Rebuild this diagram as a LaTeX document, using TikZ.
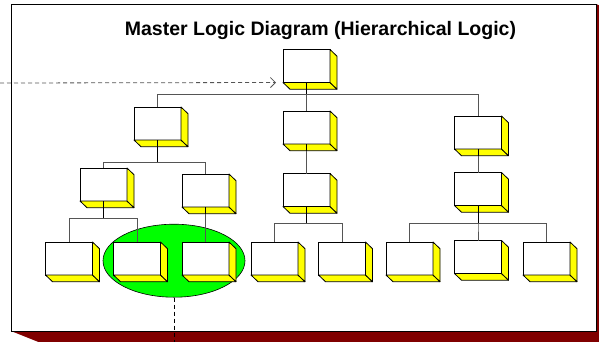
\documentclass[tikz,border=0pt]{standalone}
\usepackage{fontspec}
\setmainfont{Liberation Sans}
\usetikzlibrary{shapes.geometric,arrows.meta}
\definecolor{shadowred}{HTML}{800000}
\definecolor{boxyellow}{HTML}{FFFF00}
\definecolor{groupgreen}{HTML}{00FF00}
\definecolor{linkgray}{HTML}{555555}
\begin{document}
\begin{tikzpicture}[x=1pt,y=-1pt,
  logicbox/.style={draw=black,fill=white,line width=0.8pt,minimum width=47pt,
    minimum height=33pt,inner sep=0pt,outer sep=0pt},
  face/.style={draw=black,fill=boxyellow,line width=0.8pt,line join=round},
  link/.style={draw=linkgray,line width=0.8pt},
  stem/.style={draw=black,line width=0.9pt},
  feed/.style={draw=linkgray,line width=0.8pt,dash pattern=on 4pt off 3pt,
    -{Straight Barb[length=5pt,width=10pt]}},
  drop/.style={draw=black,line width=0.8pt,dash pattern=on 4pt off 3pt}]
  \useasboundingbox (0,0) rectangle (599,341);
  \clip (0,0) rectangle (599,341);
  % 底框
  \fill[shadowred] (596,4) -- (646,24) -- (646,351) -- (61,351) -- (11,331) -- cycle;
  \draw[fill=white,line width=1pt] (11,4) rectangle (596,331);
  \node[anchor=base,font=\bfseries\fontsize{19.5}{23}\selectfont] (title) at (320.5,35)
    {Master Logic Diagram (Hierarchical Logic)};
  % 分组
  \node[ellipse,draw=black,fill=groupgreen,line width=0.6pt,inner sep=0pt,
    minimum width=142pt,minimum height=73pt] (group) at (174,260.7) {};
  % 根节点
  \node[logicbox] (root) at (306.5,66) {};
  \node[logicbox] (la) at (157.5,123.5) {};
  \node[logicbox] (lm) at (306.5,127.5) {};
  \node[logicbox] (lr) at (478,132.5) {};
  \node[logicbox] (laa) at (103.5,184.5) {};
  \node[logicbox] (lab) at (205.5,190.5) {};
  \node[logicbox] (lmm) at (306.5,190) {};
  \node[logicbox] (lrr) at (478,189) {};
  \node[logicbox] (f1) at (69,258.5) {};
  \node[logicbox] (f2) at (137,258.5) {};
  \node[logicbox] (f3) at (205.5,258.5) {};
  \node[logicbox] (f4) at (274.5,258.5) {};
  \node[logicbox] (f5) at (342,258.5) {};
  \node[logicbox] (f6) at (409.5,258.5) {};
  \node[logicbox] (f7) at (478,257) {};
  \node[logicbox] (f8) at (546.5,258.5) {};
  % 立体面
  \foreach \b in {root,la,lm,lr,laa,lab,lmm,lrr,f1,f2,f3,f4,f5,f6,f7,f8}{
    \path[face] (\b.south west) -- (\b.south east) -- ++(7,6.7)
      -- ([shift={(7,6.7)}]\b.south west) -- cycle;
    \path[face] (\b.north east) -- ++(7,6.7)
      -- ([shift={(7,6.7)}]\b.south east) -- (\b.south east) -- cycle;
  }
  % 连线
  \foreach \c in {la,lm,lr} \draw[link] (root.south) -- ++(0,11.5) -| (\c.north);
  \draw[stem] (root.south) -- ++(0,11.5);
  \foreach \c in {laa,lab} \draw[link] (la.south) -- ++(0,22) -| (\c.north);
  \draw[stem] (la.south) -- ++(0,22);
  \foreach \c in {f1,f2} \draw[link] (laa.south) -- ++(0,17) -| (\c.north);
  \draw[stem] (laa.south) -- ++(0,17);
  \foreach \c in {f4,f5} \draw[link] (lmm.south) -- ++(0,16.5) -| (\c.north);
  \draw[stem] (lmm.south) -- ++(0,16.5);
  \foreach \c in {f6,f7,f8} \draw[link] (lrr.south) -- ++(0,17.5) -| (\c.north);
  \draw[stem] (lrr.south) -- ++(0,17.5);
  \draw[link] (lab.south) -- (f3.north);
  \draw[link] (lm.south) -- (lmm.north);
  \draw[link] (lr.south) -- (lrr.north);
  \foreach \b in {lab,lm,lr} \draw[stem] (\b.south) -- ++(0,7);
  % 输入与输出
  \coordinate (feedin) at (0,83);
  \draw[feed] (feedin) -- ([xshift=-7pt]root.south west);
  \coordinate (dropout) at (group.south |- 0,345);
  \draw[drop] (group.south) -- (dropout);
\end{tikzpicture}
\end{document}
